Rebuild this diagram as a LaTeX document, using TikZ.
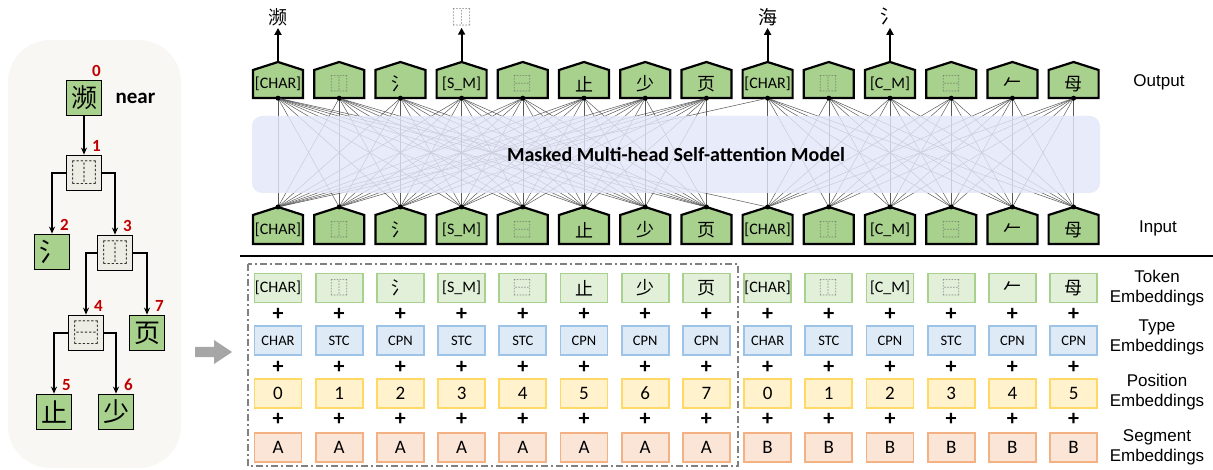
\documentclass[tikz,border=0pt]{standalone}
\usepackage{fontspec}
\setmainfont{Carlito}
\newfontfamily\cjk{Noto Sans CJK SC}
\newfontfamily\arial{Liberation Sans}
\usepackage{tikz}
\usetikzlibrary{arrows.meta,positioning,calc}
\definecolor{cgreen}{HTML}{A9D18E}
\definecolor{ctokfill}{HTML}{E2F0D9}
\definecolor{ctypefill}{HTML}{DEEBF7}
\definecolor{ctypedraw}{HTML}{9DC3E6}
\definecolor{cposfill}{HTML}{FFF2CC}
\definecolor{cposdraw}{HTML}{FFD966}
\definecolor{csegfill}{HTML}{FBE5D6}
\definecolor{csegdraw}{HTML}{F4B183}
\definecolor{cpanel}{HTML}{F8F7F3}
\definecolor{cidc}{HTML}{EEEDE5}
\definecolor{cred}{HTML}{C00000}
\definecolor{cattn}{HTML}{E3E6F8}
\newcommand\zh[1]{{\cjk\fontsize{18}{18}\selectfont #1}}
\newcommand\idc[1]{{\cjk\fontsize{18}{18}\selectfont\color{black!60}#1}}
\def\toklist{{[CHAR]},{\idc{⿰}},{\zh{氵}},{[S\_M]},{\idc{⿱}},{\zh{止}},{\zh{少}},{\zh{页}},{[CHAR]},{\idc{⿰}},{[C\_M]},{\idc{⿱}},{\zh{𠂉}},{\zh{母}}}

\begin{document}
\begin{tikzpicture}[x=1pt,y=-1pt,
  font=\fontsize{16}{18}\selectfont,
  house/.style={fill=cgreen,draw=black,line width=2.2pt,line join=miter},
  htext/.style={minimum width=50pt,minimum height=28pt,inner sep=0pt},
  emb/.style={rectangle,line width=1.8pt,minimum width=47pt,minimum height=29pt,inner sep=0pt},
  tokemb/.style={emb,fill=ctokfill,draw=cgreen},
  typemb/.style={emb,fill=ctypefill,draw=ctypedraw,font=\fontsize{14.5}{14.5}\selectfont},
  posemb/.style={emb,fill=cposfill,draw=cposdraw,font=\fontsize{19}{19}\selectfont},
  segemb/.style={emb,fill=csegfill,draw=csegdraw,font=\fontsize{19}{19}\selectfont},
  plus/.style={inner sep=0pt,font=\fontsize{22}{22}\selectfont\bfseries},
  attn/.style={black!65,line width=0.5pt},
  attnbox/.style={rectangle,rounded corners=10pt,fill=cattn,fill opacity=0.82,text opacity=1,minimum width=848pt,minimum height=77pt,font=\fontsize{20}{20}\selectfont\bfseries},
  lab/.style={align=center,font=\arial\fontsize{17}{20}\selectfont},
  toplab/.style={inner sep=2pt,font=\cjk\fontsize{19}{19}\selectfont},
  outarr/.style={-{Triangle[length=7pt,width=7pt]},line width=2pt},
  tbox/.style={rectangle,draw=black,line width=1.8pt,minimum size=35pt,inner sep=0pt,font=\cjk\fontsize{26}{26}\selectfont},
  tchar/.style={tbox,fill=cgreen},
  tidc/.style={tbox,fill=cidc},
  num/.style={text=cred,inner sep=0pt,font=\fontsize{17}{17}\selectfont\bfseries},
  tarr/.style={-{Stealth[length=7pt,width=6pt]},line width=1.4pt}]
  \useasboundingbox (0,0) rectangle (1213,470);

  % left panel: decomposition tree
  \fill[cpanel,rounded corners=42pt] (8,40) rectangle (181,468);
  \node[tchar] (t0) at (84,98) {濒};
  \node[tidc] (t1) at (84,173) {⿰};
  \node[tchar] (t2) at (52,252) {氵};
  \node[tidc] (t3) at (115,253) {⿰};
  \node[tidc] (t4) at (86,333) {⿱};
  \node[tchar] (t7) at (147,333) {页};
  \node[tchar] (t5) at (54,412) {止};
  \node[tchar] (t6) at (116,412) {少};
  \node[inner sep=0pt,right=13pt of t0,font=\fontsize{21}{21}\selectfont\bfseries] (near) {near};
  \foreach \i in {0,...,7}
    \node[num] (n\i) at ($(t\i.north east)+(-6,-9)$) {\i};
  \draw[tarr] (t0) -- (t1);
  \draw[tarr] (t1.west) -| (t2.north);
  \draw[tarr] (t1.east) -| (t3.north);
  \draw[tarr] (t3.west) -| (t4.north);
  \draw[tarr] (t3.east) -| (t7.north);
  \draw[tarr] (t4.west) -| (t5.north);
  \draw[tarr] (t4.east) -| (t6.north);

  % gray arrow
  \fill[black!35] (195,347) -- (214,347) -- (214,340) -- (232,352) -- (214,364) -- (214,357) -- (195,357) -- cycle;

  % output and input tokens
  \foreach \t [count=\i from 0] in \toklist {
    \pgfmathsetmacro\x{278+61.2*\i}
    \filldraw[house] (\x-25,98) -- (\x-25,70) -- (\x,62) -- (\x+25,70) -- (\x+25,98) -- cycle;
    \node[htext] (o\i) at (\x,84) {\t};
    \coordinate (oa\i) at (\x,62);
    \filldraw[house] (\x-25,244) -- (\x-25,215) -- (\x,207) -- (\x+25,215) -- (\x+25,244) -- cycle;
    \node[htext] (i\i) at (\x,230) {\t};
    \coordinate (ia\i) at (\x,207);
  }

  % attention connections
  \foreach \a in {0,...,7}
    \foreach \b in {0,...,7}
      \draw[attn] (o\a.south) -- (ia\b);
  \foreach \a in {8,...,13}
    \foreach \b in {8,...,13}
      \draw[attn] (o\a.south) -- (ia\b);
  \draw[attn] (o8.south) -- (ia0);
  \draw[attn] (o0.south) -- (ia8);
  \node[attnbox] (model) at (676,154.5) {Masked Multi-head Self-attention Model};
  \foreach \i in {0,...,13} {
    \fill (o\i.south) circle (2.5pt);
    \fill (ia\i) circle (2.5pt);
  }

  % predictions
  \node[toplab] (w0) at (o0|-0,17) {濒};
  \node[toplab,text=black!60] (w3) at (o3|-0,17) {⿰};
  \node[toplab] (w8) at (o8|-0,17) {海};
  \node[toplab] (w10) at (o10|-0,17) {氵};
  \draw[outarr] (oa0) -- (w0);
  \draw[outarr] (oa3) -- (w3);
  \draw[outarr] (oa8) -- (w8);
  \draw[outarr] (oa10) -- (w10);

  \node[lab] (lout) at (1159,82) {Output};
  \node[lab] (lin) at (1158,228) {Input};

  % embeddings
  \draw[line width=2.5pt] (240,256) -- (1213,256);
  \draw[black!50,line width=1.5pt,dash pattern=on 7pt off 3pt on 2pt off 3pt] (248,264) rectangle (738,466);
  \foreach \t [count=\i from 0] in \toklist {
    \pgfmathsetmacro\x{278+61.2*\i}
    \node[tokemb] (tk\i) at (\x,288) {\t};
  }
  \foreach \ty/\p/\s [count=\i from 0] in {CHAR/0/A,STC/1/A,CPN/2/A,STC/3/A,STC/4/A,CPN/5/A,CPN/6/A,CPN/7/A,CHAR/0/B,STC/1/B,CPN/2/B,STC/3/B,CPN/4/B,CPN/5/B} {
    \pgfmathsetmacro\x{278+61.2*\i}
    \node[typemb] (ty\i) at (\x,340.5) {\ty};
    \node[posemb] (ps\i) at (\x,393.5) {\p};
    \node[segemb] (sg\i) at (\x,447.5) {\s};
    \node[plus] (pa\i) at (\x,314) {+};
    \node[plus] (pb\i) at (\x,367) {+};
    \node[plus] (pc\i) at (\x,419) {+};
  }
  \node[lab] (ltok) at (1157,288.5) {Token\\Embeddings};
  \node[lab] (ltyp) at (1157,337.5) {Type\\Embeddings};
  \node[lab] (lpos) at (1157,392) {Position\\Embeddings};
  \node[lab] (lseg) at (1157,447) {Segment\\Embeddings};
\end{tikzpicture}
\end{document}
